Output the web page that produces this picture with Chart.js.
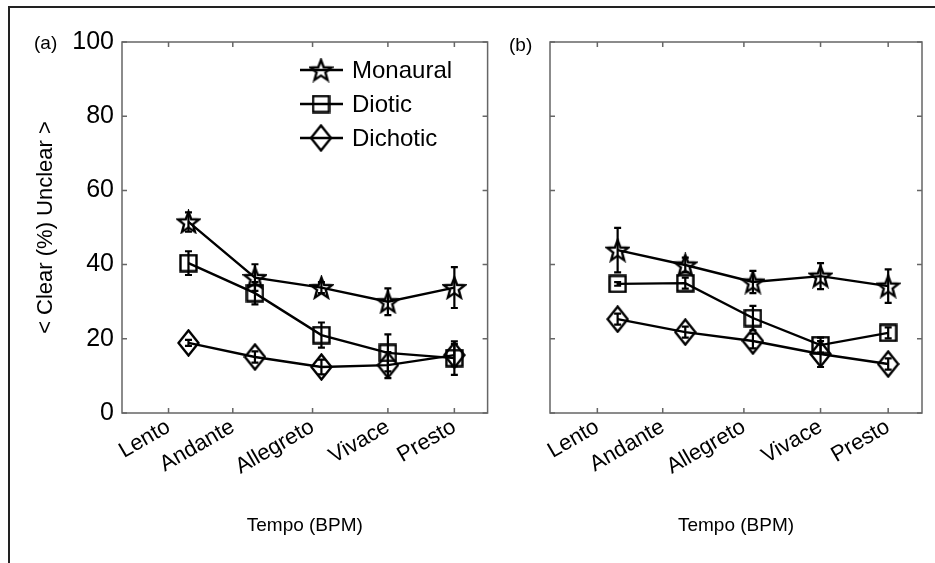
<!DOCTYPE html>
<html>
<head>
<meta charset="utf-8">
<script src="https://cdn.jsdelivr.net/npm/chart.js@4.4.1/dist/chart.umd.min.js"></script>
<style>
    body { margin: 0; width: 935px; height: 563px; overflow: hidden; background: #fff; font-family: "Liberation Sans", Arial, sans-serif; }
    #frame { position: absolute; left: 8px; top: 6px; width: 980px; height: 620px; border: 2px solid #222; }
    .wrap { position: absolute; top: 0; }
    .panel { position: absolute; font-size: 19px; line-height: 20px; color: #000; }
</style>
</head>
<body>
<div id="frame"></div>
<div class="wrap" style="left:0;"><canvas id="chartA" width="500" height="563"></canvas></div>
<div class="wrap" style="left:500px;"><canvas id="chartB" width="435" height="563"></canvas></div>
<div class="panel" style="left:34px; top:33px;">(a)</div>
<div class="panel" style="left:509px; top:35px;">(b)</div>
<script>
const categories = ["Lento", "Andante", "Allegreto", "Vivace", "Presto"];
const tickBpm = [51, 80, 116, 150, 180];
const pointBpm = [60, 90, 120, 150, 180];
const yTicks = [0, 20, 40, 60, 80, 100];
const seriesNames = ["Monaural", "Diotic", "Dichotic"];

// panel (a)
const monauralA = [51.5, 36.5, 33.8, 30.0, 33.8];
const monauralErrA = [2.6, 3.6, 1.5, 3.6, 5.5];
const dioticA = [40.4, 32.3, 21.0, 16.2, 14.8];
const dioticErrA = [3.2, 3.0, 3.4, 5.0, 4.5];
const dichoticA = [18.9, 15.1, 12.4, 12.9, 15.6];
const dichoticErrA = [0.8, 1.5, 2.0, 3.5, 3.0];

// panel (b)
const monauralB = [43.9, 39.9, 35.3, 36.9, 34.2];
const monauralErrB = [6.0, 2.0, 3.0, 3.5, 4.5];
const dioticB = [34.8, 35.0, 25.6, 18.3, 21.6];
const dioticErrB = [0.5, 1.5, 3.3, 2.0, 1.5];
const dichoticB = [25.3, 21.8, 19.4, 15.9, 13.2];
const dichoticErrB = [1.5, 1.5, 2.0, 3.5, 1.5];

Chart.defaults.font.family = '"Liberation Sans", Arial, sans-serif';
Chart.defaults.color = "#000";

function marker(kind, w, h) {
    const c = document.createElement("canvas");
    c.width = w;
    c.height = h;
    const g = c.getContext("2d");
    const mx = w / 2, my = h / 2;
    g.strokeStyle = "#000";
    g.lineWidth = 2.4;
    g.beginPath();
    if (kind === "star") {
        const R = mx - 1.5, r = R * 0.42;
        for (let i = 0; i < 10; i++) {
            const a = -Math.PI / 2 + i * Math.PI / 5;
            const rr = i % 2 ? r : R;
            g.lineTo(mx + rr * Math.cos(a), my + 1 + rr * Math.sin(a));
        }
    } else if (kind === "square") {
        g.rect(1.5, 1.5, w - 3, h - 3);
    } else {
        g.moveTo(mx, 1.5);
        g.lineTo(w - 1.5, my);
        g.lineTo(mx, h - 1.5);
        g.lineTo(1.5, my);
    }
    g.closePath();
    g.stroke();
    return c;
}

const markers = [marker("star", 25, 25), marker("square", 19, 19), marker("diamond", 23, 28)];

function series(values, errors, i) {
    return {
        label: seriesNames[i],
        data: values.map((v, k) => ({ x: pointBpm[k], y: v })),
        errors: errors,
        borderColor: "#000",
        borderWidth: 2.4,
        fill: false,
        tension: 0,
        pointStyle: markers[i],
        pointRadius: 10
    };
}

const errorBars = {
    id: "errorBars",
    afterDatasetsDraw(chart) {
        const ctx = chart.ctx;
        const yScale = chart.scales.y;
        ctx.save();
        ctx.strokeStyle = "#000";
        ctx.lineWidth = 2.2;
        chart.data.datasets.forEach((ds, i) => {
            const meta = chart.getDatasetMeta(i);
            meta.data.forEach((pt, k) => {
                const v = ds.data[k].y, e = ds.errors[k];
                const top = yScale.getPixelForValue(v + e);
                const bot = yScale.getPixelForValue(v - e);
                ctx.beginPath();
                ctx.moveTo(pt.x, top);
                ctx.lineTo(pt.x, bot);
                ctx.moveTo(pt.x - 3.5, top);
                ctx.lineTo(pt.x + 3.5, top);
                ctx.moveTo(pt.x - 3.5, bot);
                ctx.lineTo(pt.x + 3.5, bot);
                ctx.stroke();
            });
        });
        ctx.restore();
    }
};

const frame = {
    id: "frame",
    afterDraw(chart) {
        const { ctx, chartArea: a, scales } = chart;
        ctx.save();
        ctx.strokeStyle = "#666";
        ctx.lineWidth = 1.5;
        ctx.strokeRect(a.left, a.top, a.right - a.left, a.bottom - a.top);
        ctx.beginPath();
        tickBpm.forEach(v => {
            const x = scales.x.getPixelForValue(v);
            ctx.moveTo(x, a.bottom);
            ctx.lineTo(x, a.bottom - 5);
            ctx.moveTo(x, a.top);
            ctx.lineTo(x, a.top + 5);
        });
        yTicks.forEach(v => {
            const y = scales.y.getPixelForValue(v);
            ctx.moveTo(a.left, y);
            ctx.lineTo(a.left + 5, y);
            ctx.moveTo(a.right, y);
            ctx.lineTo(a.right - 5, y);
        });
        ctx.stroke();
        ctx.restore();
    }
};

const boxLegend = {
    id: "boxLegend",
    afterDraw(chart) {
        const ctx = chart.ctx;
        const rows = [70, 104, 138];
        ctx.save();
        ctx.font = '24px "Liberation Sans", Arial, sans-serif';
        ctx.fillStyle = "#000";
        ctx.textBaseline = "middle";
        ctx.strokeStyle = "#000";
        ctx.lineWidth = 2.4;
        seriesNames.forEach((name, i) => {
            const y = rows[i];
            ctx.beginPath();
            ctx.moveTo(300, y);
            ctx.lineTo(343, y);
            ctx.stroke();
            const m = markers[i];
            ctx.drawImage(m, 321 - m.width / 2, y - m.height / 2);
            ctx.fillText(name, 352, y + 1);
        });
        ctx.restore();
    }
};

function makeChart(id, datasets, showY, extra) {
    return new Chart(document.getElementById(id), {
        type: "line",
        data: { datasets: datasets },
        options: {
            responsive: false,
            animation: false,
            layout: { padding: { top: 42, right: showY ? 5 : 13, left: 0, bottom: 0 } },
            plugins: { legend: { display: false }, tooltip: { enabled: false } },
            scales: {
                x: {
                    type: "linear",
                    min: 30,
                    max: 195,
                    afterBuildTicks: s => { s.ticks = tickBpm.map(v => ({ value: v })); },
                    afterFit: s => { s.height = 150; },
                    grid: { display: false, drawTicks: false },
                    border: { display: false },
                    ticks: {
                        minRotation: 30,
                        maxRotation: 30,
                        padding: 1,
                        color: "#000",
                        font: { size: 22 },
                        callback: (v, i) => categories[i]
                    },
                    title: {
                        display: true,
                        text: "Tempo (BPM)",
                        color: "#000",
                        font: { size: 19 },
                        padding: { top: 0, bottom: 26 }
                    }
                },
                y: {
                    min: 0,
                    max: 100,
                    afterBuildTicks: s => { s.ticks = yTicks.map(v => ({ value: v })); },
                    afterFit: s => { s.width = showY ? 122 : 50; },
                    grid: { display: false, drawTicks: false },
                    border: { display: false },
                    ticks: { display: showY, padding: 8, color: "#000", font: { size: 25 } },
                    title: {
                        display: showY,
                        text: "< Clear (%) Unclear >",
                        color: "#000",
                        font: { size: 22 },
                        padding: { top: 33, bottom: 0 }
                    }
                }
            }
        },
        plugins: [frame, errorBars].concat(extra)
    });
}

makeChart("chartA", [
    series(monauralA, monauralErrA, 0),
    series(dioticA, dioticErrA, 1),
    series(dichoticA, dichoticErrA, 2)
], true, [boxLegend]);

makeChart("chartB", [
    series(monauralB, monauralErrB, 0),
    series(dioticB, dioticErrB, 1),
    series(dichoticB, dichoticErrB, 2)
], false, []);
</script>
</body>
</html>
